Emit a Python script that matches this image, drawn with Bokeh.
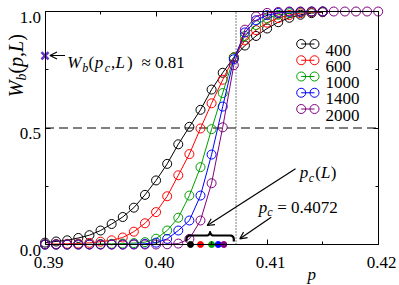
import math
from bokeh.plotting import figure
from bokeh.models import (Range1d, LinearAxis, FixedTicker, Label, Arrow, OpenHead,
                          ColumnDataSource)
from bokeh.core.properties import value
from bokeh.embed import file_html
from bokeh.resources import INLINE

# ---------------- data ----------------
p_vals = [0.390, 0.391, 0.392, 0.393, 0.394, 0.395, 0.396, 0.397, 0.398, 0.399,
          0.400, 0.401, 0.402, 0.403, 0.404, 0.405, 0.406, 0.407, 0.408, 0.409,
          0.410, 0.411, 0.412, 0.413, 0.414, 0.415]
p_vals_2000 = p_vals + [0.416, 0.417, 0.418, 0.419, 0.420]

w_400 = [0.008, 0.013, 0.018, 0.028, 0.040, 0.060, 0.088, 0.118, 0.158, 0.213,
         0.275, 0.346, 0.430, 0.505, 0.578, 0.665, 0.737, 0.803, 0.854, 0.895,
         0.927, 0.954, 0.973, 0.986, 0.993, 0.997]
w_600 = [0.001, 0.002, 0.003, 0.004, 0.007, 0.012, 0.018, 0.030, 0.055, 0.091,
         0.139, 0.207, 0.297, 0.388, 0.498, 0.606, 0.707, 0.803, 0.876, 0.920,
         0.952, 0.972, 0.985, 0.993, 0.997, 0.999]
w_1000 = [0.000, 0.000, 0.000, 0.001, 0.001, 0.002, 0.003, 0.004, 0.006, 0.010,
          0.025, 0.060, 0.115, 0.210, 0.332, 0.495, 0.650, 0.802, 0.895, 0.942,
          0.970, 0.986, 0.993, 0.997, 0.999, 1.000]
w_1400 = [0.000, 0.000, 0.000, 0.000, 0.000, 0.000, 0.000, 0.000, 0.001, 0.003,
          0.008, 0.024, 0.060, 0.103, 0.210, 0.386, 0.592, 0.795, 0.910, 0.962,
          0.984, 0.994, 0.998, 0.999, 1.000, 1.000]
w_2000 = [0.000, 0.000, 0.000, 0.000, 0.000, 0.000, 0.000, 0.000, 0.000, 0.000,
          0.000, 0.001, 0.004, 0.024, 0.103, 0.263, 0.503, 0.770, 0.922, 0.979,
          0.994, 0.998, 1.000, 1.000, 1.000, 1.000, 1.000, 1.000, 1.000, 1.000,
          1.000]

sizes = ["400", "600", "1000", "1400", "2000"]
colors = ["#000000", "#ff0000", "#00a000", "#0000ff", "#800080"]
pc_L = [0.4031, 0.4040, 0.4050, 0.4056, 0.4061]
pc_inf = 0.4072
w_cross = 0.81
x_ticks = [0.39, 0.40, 0.41, 0.42]
x_minor = [0.395, 0.405, 0.415]
y_ticks = [0.0, 0.5, 1.0]
y_minor = [0.25, 0.75]

# ---------------- geometry / style ----------------
FONT = "Liberation Serif"
FS = 17
SUB = 12
W, H = 399, 285
X0, X1 = 0.39, 0.42
BOX_L, BOX_R, BOX_T, BOX_B = 44.5, 377.7, 11.0, 244.0   # box in canvas pixels
sx = (BOX_R - BOX_L) / (X1 - X0)
sy = (BOX_B - BOX_T) / 1.0


def rx(px):
    # canvas pixel -> data x
    return X0 + (px - BOX_L) / sx


def ry(py):
    # canvas pixel -> data y
    return (BOX_B - py) / sy


p = figure(width=W, height=H, output_backend="svg", toolbar_location=None,
           x_range=Range1d(rx(0), rx(W)), y_range=Range1d(ry(H), ry(0)),
           x_axis_location=None, y_axis_location=None,
           min_border=0, min_border_left=0, min_border_right=0,
           min_border_top=0, min_border_bottom=0)
p.outline_line_color = None
p.grid.visible = False
p.background_fill_color = "white"
p.border_fill_color = "white"


def make_axis(ticks, minor, loc, bounds):
    ax = LinearAxis(ticker=FixedTicker(ticks=ticks, minor_ticks=minor),
                    fixed_location=loc, bounds=bounds)
    ax.axis_line_color = "black"
    ax.axis_line_width = 1
    ax.major_tick_in = 5
    ax.major_tick_out = 0
    ax.minor_tick_in = 3
    ax.minor_tick_out = 0
    ax.major_tick_line_color = "black"
    ax.minor_tick_line_color = "black"
    ax.major_label_overrides = {t: "" for t in ticks}
    ax.major_label_text_font_size = "1px"
    ax.major_label_standoff = 0
    return ax


p.add_layout(make_axis(y_ticks, y_minor, X0, (0, 1)), "left")
p.add_layout(make_axis(x_ticks, x_minor, 0.0, (X0, X1)), "below")
p.add_layout(make_axis(y_ticks, y_minor, X1, (0, 1)), "right")
p.add_layout(make_axis(x_ticks, x_minor, 1.0, (X0, X1)), "above")

# tick labels (from the tick arrays)
xt = ColumnDataSource(dict(x=x_ticks, y=[0.0] * len(x_ticks),
                           t=[f"{v:.2f}" for v in x_ticks]))
p.text("x", "y", text="t", source=xt, text_font=value(FONT),
       text_font_size=value(f"{FS}px"), text_color="black", text_align="center",
       text_baseline="alphabetic", x_offset=3.5, y_offset=17.7)
yt = ColumnDataSource(dict(x=[X0] * len(y_ticks), y=y_ticks,
                           t=[f"{v:.1f}" for v in y_ticks]))
p.text("x", "y", text="t", source=yt, text_font=value(FONT),
       text_font_size=value(f"{FS}px"), text_color="black", text_align="right",
       text_baseline="alphabetic", x_offset=-4.0, y_offset=5.8)

# reference lines
p.line([X0, X1], [0.5, 0.5], line_color="black", line_width=1.2, line_dash="9 5")
p.line([pc_inf, pc_inf], [0, 1], line_color="black", line_width=1, line_dash="1 2")

# data series
series = [(p_vals, w_400), (p_vals, w_600), (p_vals, w_1000),
          (p_vals, w_1400), (p_vals_2000, w_2000)]
for (xs, ys), col in zip(series, colors):
    p.line(xs, ys, line_color=col, line_width=1)
    p.scatter(xs, ys, marker="circle", size=9, line_color=col,
              fill_color=None, line_width=1)

# pc(L) dots on the axis
p.scatter(pc_L, [0.0] * len(pc_L), marker="circle", size=6,
          fill_color=colors, line_color=colors)

# crossing marker
p.scatter([X0], [w_cross], marker="x", size=10, line_width=2.5,
          line_color="#6a2fc8")

# brace above the pc(L) dots
xl, xr, xm = 186.0, 233.3, 209.6
yend, yh, r = 241.0, 235.0, 3.5


def arc(cx, cy, a0, a1, n=8):
    pts = []
    for k in range(n + 1):
        t = math.radians(a0 + (a1 - a0) * k / n)
        pts.append((cx + r * math.cos(t), cy + r * math.sin(t)))
    return pts


pts = [(xl, yend)]
pts += arc(xl + r, yh + r, 180, 270)
pts += arc(xm - r, yh - r, 90, 0)
pts += arc(xm + r, yh - r, 180, 90)
pts += arc(xr - r, yh + r, 270, 360)
pts += [(xr, yend)]
p.line([rx(a) for a, b in pts], [ry(b) for a, b in pts], line_color="black",
       line_width=2.2, line_join="round")

# legend (o-o style)
for i, (lab, col) in enumerate(zip(sizes, colors)):
    yy = 43.5 + 16.25 * i
    p.line([rx(300.7), rx(314.0)], [ry(yy), ry(yy)], line_color=col, line_width=1)
    p.scatter([rx(300.7), rx(314.0)], [ry(yy), ry(yy)], marker="circle", size=9,
              line_color=col, fill_color=None, line_width=1)
    p.add_layout(Label(x=rx(325.0), y=ry(yy + 6), text=lab, text_font=FONT,
                       text_font_size=f"{FS}px", text_color="black",
                       text_align="left", text_baseline="alphabetic"))


def put(text, px, py, italic=False, size=FS, angle=0.0):
    p.add_layout(Label(x=rx(px), y=ry(py), text=text, text_font=FONT,
                       text_font_size=f"{size}px",
                       text_font_style="italic" if italic else "normal",
                       text_color="black", text_align="left",
                       text_baseline="alphabetic", angle=angle))


# W_b(p_c,L) ~ 0.81
put("W", 66.7, 62.3, True)
put("b", 81.7, 67.0, True, SUB)
put("(", 88.0, 62.3)
put("p", 94.3, 62.3, True)
put("c", 104.3, 67.0, True, SUB)
put(",", 110.5, 62.3)
put("L", 115.0, 62.3, True)
put(")", 126.5, 62.3)
put(f"\u2248 {w_cross:.2f}", 141.0, 62.3)

# p_c(L)
put("p", 299.3, 172.0, True)
put("c", 308.3, 177.0, True, SUB)
put("(", 314.8, 172.0)
put("L", 320.5, 172.0, True)
put(")", 330.3, 172.0)

# p_c = 0.4072
put("p", 258.3, 206.5, True)
put("c", 266.7, 211.5, True, SUB)
put(f"= {pc_inf}", 276.7, 206.5)

# y-axis title W_b(p,L), rotated
ADV = {"W": 0.833, "b": 0.5, "c": 0.444, "p": 0.5, "L": 0.556,
       "(": 0.333, ")": 0.333, ",": 0.25}
YFS, YSUB = 20, 14
cur = 96.7
for t, it, sub in [("W", True, False), ("b", True, True), ("(", False, False),
                   ("p", True, False), (",", False, False), ("L", True, False),
                   (")", False, False)]:
    fs = YSUB if sub else YFS
    put(t, 15.5 + (5.0 if sub else 0.0), cur, it, fs, angle=math.pi / 2)
    cur -= sum(ADV[ch] for ch in t) * fs

# x-axis title
put("p", 307.0, 274.0, True)

# arrows
for (x_s, y_s, x_e, y_e) in [(64.5, 55.0, 49.5, 55.0),
                             (295.0, 168.3, 206.7, 225.0),
                             (270.7, 216.7, 239.3, 238.3)]:
    p.add_layout(Arrow(end=OpenHead(size=7, line_width=1.2, line_color="black"),
                       x_start=rx(x_s), y_start=ry(y_s), x_end=rx(x_e), y_end=ry(y_e),
                       line_width=1.2, line_color="black"))

open("out.html", "w").write(file_html(p, INLINE))
